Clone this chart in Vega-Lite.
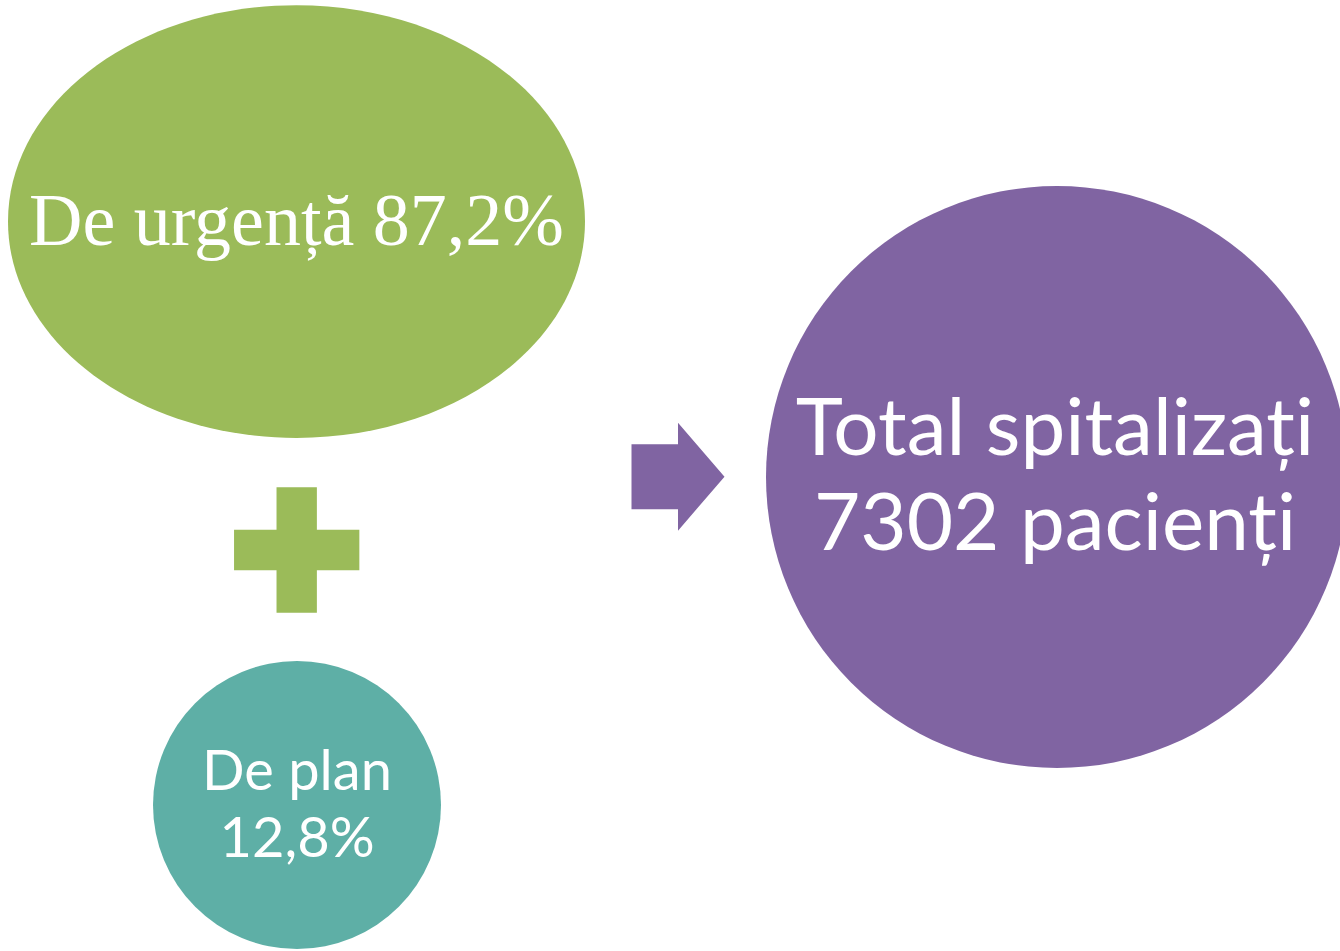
{
  "$schema": "https://vega.github.io/schema/vega-lite/v6.json",
  "width": 1340,
  "height": 951,
  "padding": 0,
  "autosize": {"type": "none"},
  "background": "white",
  "config": {"view": {"stroke": null}},
  "datasets": {
    "shapes": [
      {"id": "urgenta", "x": 296.5, "y": 221.5},
      {"id": "plus", "x": 296.7, "y": 550},
      {"id": "plan", "x": 297, "y": 805},
      {"id": "arrow", "x": 678, "y": 476.7},
      {"id": "total", "x": 1057, "y": 477}
    ],
    "labels": [
      {"id": "urgenta", "text": "De urgență 87,2%", "x": 296.5, "y": 245},
      {"id": "plan", "text": "De plan\n12,8%", "x": 297, "y": 790},
      {"id": "total", "text": "Total spitalizați\n7302 pacienți", "x": 1055, "y": 455}
    ]
  },
  "encoding": {
    "x": {"field": "x", "type": "quantitative", "scale": {"domain": [0, 1340], "nice": false, "zero": false}, "axis": null},
    "y": {"field": "y", "type": "quantitative", "scale": {"domain": [951, 0], "nice": false, "zero": false}, "axis": null}
  },
  "layer": [
    {
      "data": {"name": "shapes"},
      "transform": [{"filter": "datum.id === 'urgenta'"}],
      "mark": {"type": "point", "filled": true, "opacity": 1, "strokeWidth": 0, "color": "#9BBB59", "size": 332929,
        "shape": "M -1 0 C -1 -0.4142 -0.5523 -0.75 0 -0.75 C 0.5523 -0.75 1 -0.4142 1 0 C 1 0.4142 0.5523 0.75 0 0.75 C -0.5523 0.75 -1 0.4142 -1 0 Z"}
    },
    {
      "data": {"name": "shapes"},
      "transform": [{"filter": "datum.id === 'plus'"}],
      "mark": {"type": "point", "filled": true, "opacity": 1, "strokeWidth": 0, "color": "#9BBB59", "size": 15700,
        "shape": "M -0.322 -1 L 0.322 -1 L 0.322 -0.322 L 1 -0.322 L 1 0.322 L 0.322 0.322 L 0.322 1 L -0.322 1 L -0.322 0.322 L -1 0.322 L -1 -0.322 L -0.322 -0.322 Z"}
    },
    {
      "data": {"name": "shapes"},
      "transform": [{"filter": "datum.id === 'plan'"}],
      "mark": {"type": "point", "filled": true, "opacity": 1, "strokeWidth": 0, "color": "#5EAFA6", "size": 82944, "shape": "circle"}
    },
    {
      "data": {"name": "shapes"},
      "transform": [{"filter": "datum.id === 'arrow'"}],
      "mark": {"type": "point", "filled": true, "opacity": 1, "strokeWidth": 0, "color": "#8064A2", "size": 8649,
        "shape": "M -1 -0.7 L 0 -0.7 L 0 -1.16 L 1 0 L 0 1.16 L 0 0.7 L -1 0.7 Z"}
    },
    {
      "data": {"name": "shapes"},
      "transform": [{"filter": "datum.id === 'total'"}],
      "mark": {"type": "point", "filled": true, "opacity": 1, "strokeWidth": 0, "color": "#8064A2", "size": 338724, "shape": "circle"}
    },
    {
      "data": {"name": "labels"},
      "transform": [{"filter": "datum.id === 'urgenta'"}],
      "mark": {"type": "text", "font": "Liberation Serif", "fontSize": 74, "color": "white", "align": "center", "baseline": "alphabetic"},
      "encoding": {"text": {"field": "text"}}
    },
    {
      "data": {"name": "labels"},
      "transform": [{"filter": "datum.id === 'plan'"}],
      "mark": {"type": "text", "font": "Lato", "fontSize": 56, "color": "white", "align": "center", "baseline": "alphabetic", "lineBreak": "\n", "lineHeight": 67},
      "encoding": {"text": {"field": "text"}}
    },
    {
      "data": {"name": "labels"},
      "transform": [{"filter": "datum.id === 'total'"}],
      "mark": {"type": "text", "font": "Lato", "fontSize": 80, "color": "white", "align": "center", "baseline": "alphabetic", "lineBreak": "\n", "lineHeight": 95},
      "encoding": {"text": {"field": "text"}}
    }
  ]
}
